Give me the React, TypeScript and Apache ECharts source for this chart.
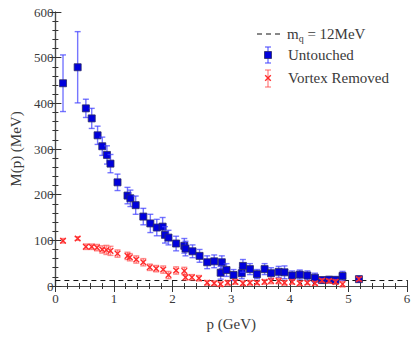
import React, { useEffect, useRef } from "react";
import * as echarts from "echarts";

// Untouched: [p (GeV), M (MeV), error]
const untouchedP = [0.13, 0.38, 0.52, 0.62, 0.72, 0.8, 0.88, 0.94, 1.06, 1.23, 1.28, 1.37, 1.5, 1.62, 1.73, 1.83, 1.87, 1.93, 2.06, 2.2, 2.22, 2.34, 2.46, 2.59, 2.71, 2.84, 2.82, 2.92, 3.04, 3.18, 3.2, 3.32, 3.44, 3.57, 3.68, 3.81, 3.91, 4.04, 4.17, 4.3, 4.43, 4.55, 4.67, 4.78, 4.9, 5.18];
const untouchedM = [444, 479, 389, 367, 330, 306, 287, 268, 227, 198, 192, 177, 152, 137, 128, 130, 112, 106, 93, 88, 82, 76, 66, 52, 54, 52, 29, 35, 24, 28, 44, 37, 26, 37, 28, 31, 30, 23, 25, 23, 18, 13, 14, 13, 22, 15];
const untouchedErr = [62, 78, 20, 22, 20, 20, 20, 20, 18, 18, 18, 20, 18, 20, 18, 20, 18, 16, 16, 16, 16, 14, 14, 14, 14, 14, 14, 14, 12, 12, 14, 12, 10, 12, 12, 12, 14, 10, 10, 10, 10, 6, 6, 8, 10, 6];

// Vortex removed
const removedP = [0.13, 0.38, 0.52, 0.62, 0.71, 0.8, 0.87, 0.94, 1.06, 1.23, 1.27, 1.38, 1.5, 1.61, 1.72, 1.84, 1.93, 2.06, 2.2, 2.22, 2.33, 2.45, 2.59, 2.71, 2.82, 2.94, 3.07, 3.2, 3.32, 3.44, 3.57, 3.68, 3.81, 3.91, 4.04, 4.17, 4.3, 4.43, 4.55, 4.67, 4.78, 4.9, 5.18];
const removedM = [99, 104, 86, 86, 84, 80, 79, 77, 71, 66, 63, 58, 52, 41, 38, 36, 24, 34, 33, 19, 19, 17, 7, 6, 4, 7, 9, 6, 7, 7, 9, 11, 11, 7, 9, 6, 7, 6, 12, 11, 9, 4, 15];
const removedErr = [5, 4, 6, 6, 7, 8, 10, 10, 8, 8, 8, 8, 8, 7, 7, 8, 8, 8, 8, 6, 6, 6, 5, 5, 5, 5, 5, 5, 5, 4, 5, 6, 6, 5, 5, 5, 4, 4, 4, 4, 5, 6, 4];

const quarkMass = 12;
const xRange = [0, 6];
const yRange = [0, 600];

const FONT = "Liberation Serif";
const TXT = "#3a3a3a";
const BLUE_BAR = "rgba(60,60,255,0.7)";
const RED_BAR = "rgba(255,70,70,0.6)";
const RED_X = "#ff2a2a";

export default function App() {
  const ref = useRef<HTMLDivElement>(null);
  useEffect(() => {
    if (!ref.current) return;
    const chart = echarts.init(ref.current, undefined, { renderer: "svg" });

    const untouched = untouchedP.map((p, i) => [p, untouchedM[i], untouchedErr[i]]);
    const removed = removedP.map((p, i) => [p, removedM[i], removedErr[i]]);

    const frameAxis = (show: boolean) => ({
      axisLine: { show: true, lineStyle: { color: "#4a4a4a", width: 1.2 } },
      axisTick: { show: true, inside: true, length: 6, lineStyle: { color: "#333", width: 1 } },
      minorTick: { show: true, splitNumber: 5, length: 3, lineStyle: { color: "#333", width: 1 } },
      splitLine: { show: false },
      axisLabel: show
        ? { show: true, color: TXT, fontFamily: FONT, fontSize: 13 }
        : { show: false },
    });

    const errRender = (kind: "sq" | "x") => (params: any, api: any) => {
      const x = api.value(0);
      const y = api.value(1);
      const e = api.value(2);
      const c = api.coord([x, y]);
      const t = api.coord([x, y + e]);
      const b = api.coord([x, y - e]);
      const barColor = kind === "sq" ? BLUE_BAR : RED_BAR;
      const cap = 3;
      const children: any[] = [
        { type: "line", shape: { x1: c[0], y1: t[1], x2: c[0], y2: b[1] }, style: { stroke: barColor, lineWidth: 1.4 } },
        { type: "line", shape: { x1: c[0] - cap, y1: t[1], x2: c[0] + cap, y2: t[1] }, style: { stroke: barColor, lineWidth: 1.4 } },
        { type: "line", shape: { x1: c[0] - cap, y1: b[1], x2: c[0] + cap, y2: b[1] }, style: { stroke: barColor, lineWidth: 1.4 } },
      ];
      if (kind === "sq") {
        children.push({
          type: "rect",
          shape: { x: c[0] - 3.5, y: c[1] - 3.5, width: 7, height: 7 },
          style: { fill: "#0000dc", stroke: "#2a2a66", lineWidth: 0.8 },
        });
      } else {
        const s = 2.8;
        children.push(
          { type: "line", shape: { x1: c[0] - s, y1: c[1] - s, x2: c[0] + s, y2: c[1] + s }, style: { stroke: RED_X, lineWidth: 1.4 } },
          { type: "line", shape: { x1: c[0] - s, y1: c[1] + s, x2: c[0] + s, y2: c[1] - s }, style: { stroke: RED_X, lineWidth: 1.4 } }
        );
      }
      return { type: "group", children };
    };

    const legendX = 268;
    const richM = {
      m: { fontFamily: FONT, fontSize: 15, fill: TXT, lineHeight: 18 },
      s: { fontFamily: FONT, fontSize: 10, fill: TXT, lineHeight: 10, verticalAlign: "bottom" },
    };
    const txt = (text: string, x: number, y: number) => ({
      type: "text",
      x,
      y,
      style: { text: `{m|${text}}`, fontFamily: FONT, fontSize: 15, verticalAlign: "middle", rich: richM },
    });
    chart.setOption({
      animation: false,
      grid: { left: 48, right: 9, top: 12, bottom: 52, containLabel: false },
      xAxis: [
        {
          type: "value",
          min: xRange[0],
          max: xRange[1],
          interval: 1,
          name: "p (GeV)",
          nameLocation: "middle",
          nameGap: 30,
          nameTextStyle: { color: TXT, fontFamily: FONT, fontSize: 15 },
          ...frameAxis(true),
          axisLabel: { show: true, color: TXT, fontFamily: FONT, fontSize: 13, margin: 6 },
        },
        { type: "value", position: "top", min: xRange[0], max: xRange[1], interval: 1, ...frameAxis(false) },
      ],
      yAxis: [
        {
          type: "value",
          min: yRange[0],
          max: yRange[1],
          interval: 100,
          name: "M(p) (MeV)",
          nameLocation: "middle",
          nameGap: 30,
          nameTextStyle: { color: TXT, fontFamily: FONT, fontSize: 15 },
          ...frameAxis(true),
          axisLabel: { show: true, color: TXT, fontFamily: FONT, fontSize: 13, margin: 2 },
        },
        { type: "value", position: "right", min: yRange[0], max: yRange[1], interval: 100, ...frameAxis(false) },
      ],
      series: [
        {
          type: "line",
          data: [[xRange[0], quarkMass], [xRange[1], quarkMass]],
          symbol: "none",
          lineStyle: { color: "#111", width: 1, type: [5, 4] },
          z: 1,
        },
        {
          type: "custom",
          data: untouched,
          renderItem: errRender("sq"),
          encode: { x: 0, y: 1 },
          z: 2,
        },
        {
          type: "custom",
          data: removed,
          renderItem: errRender("x"),
          encode: { x: 0, y: 1 },
          z: 3,
        },
      ],
      graphic: [
        { type: "line", shape: { x1: 257, y1: 34, x2: 281, y2: 34 }, style: { stroke: "#111", lineWidth: 1, lineDash: [5, 4] } },
        {
          type: "text",
          x: 287,
          y: 34,
          style: {
            text: "{m|m}{s|q}{m| = 12MeV}",
            fontFamily: FONT,
            fontSize: 15,
            verticalAlign: "middle",
            rich: richM,
          },
        },
        { type: "line", shape: { x1: legendX, y1: 47, x2: legendX, y2: 63 }, style: { stroke: BLUE_BAR, lineWidth: 1.4 } },
        { type: "line", shape: { x1: legendX - 3, y1: 47, x2: legendX + 3, y2: 47 }, style: { stroke: BLUE_BAR, lineWidth: 1.4 } },
        { type: "line", shape: { x1: legendX - 3, y1: 63, x2: legendX + 3, y2: 63 }, style: { stroke: BLUE_BAR, lineWidth: 1.4 } },
        { type: "rect", shape: { x: legendX - 3.5, y: 51.5, width: 7, height: 7 }, style: { fill: "#0000dc", stroke: "#2a2a66", lineWidth: 0.8 } },
        txt("Untouched", 288, 55),
        { type: "line", shape: { x1: legendX, y1: 70, x2: legendX, y2: 87 }, style: { stroke: RED_BAR, lineWidth: 1.4 } },
        { type: "line", shape: { x1: legendX - 3, y1: 70, x2: legendX + 3, y2: 70 }, style: { stroke: RED_BAR, lineWidth: 1.4 } },
        { type: "line", shape: { x1: legendX - 3, y1: 87, x2: legendX + 3, y2: 87 }, style: { stroke: RED_BAR, lineWidth: 1.4 } },
        { type: "line", shape: { x1: legendX - 2.8, y1: 75.2, x2: legendX + 2.8, y2: 80.8 }, style: { stroke: RED_X, lineWidth: 1.4 } },
        { type: "line", shape: { x1: legendX - 2.8, y1: 80.8, x2: legendX + 2.8, y2: 75.2 }, style: { stroke: RED_X, lineWidth: 1.4 } },
        txt("Vortex Removed", 288, 78),
      ],
    });
    return () => chart.dispose();
  }, []);
  return <div ref={ref} style={{ width: 416, height: 338, position: "fixed", left: 0, top: 0, background: "#fff" }} />;
}
